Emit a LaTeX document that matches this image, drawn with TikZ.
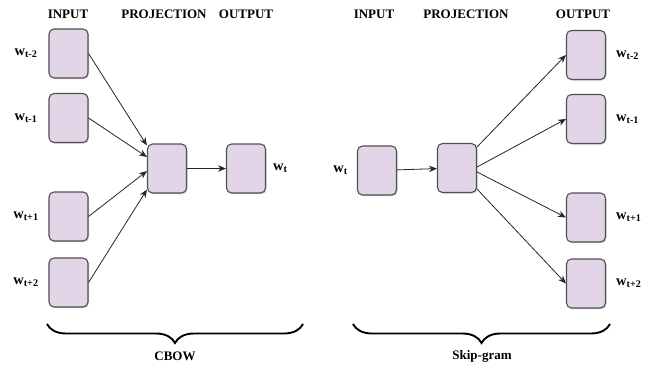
\documentclass[tikz,border=0pt]{standalone}
\usepackage{fontspec}
\setmainfont{Liberation Serif}
\usetikzlibrary{arrows.meta,calc,shadows,decorations.pathreplacing}

\definecolor{boxfill}{HTML}{E1D5E7}
\definecolor{boxline}{HTML}{505050}

\tikzset{
  wbox/.style={draw=boxline,fill=boxfill,line width=1.1pt,rounded corners=5pt,
    minimum width=39pt,minimum height=49pt,inner sep=0pt,
    drop shadow={shadow xshift=1pt,shadow yshift=-1.2pt,opacity=0.35}},
  hdr/.style={font=\bfseries\fontsize{13}{15}\selectfont},
  wlab/.style={font=\bfseries\fontsize{14.5}{16}\selectfont,inner sep=1pt},
  arr/.style={-{Stealth[length=8pt,width=6.5pt]},line width=0.8pt,black!85},
  brc/.style={decorate,decoration={brace,mirror,amplitude=19pt},line width=1.9pt}
}

\begin{document}
\begin{tikzpicture}[x=1pt,y=-1pt]
    \useasboundingbox (0,0) rectangle (653,369);
    % headers
    \node[hdr] (hin1) at (68,14) {INPUT};
    \node[hdr] (hpr1) at (164,14) {PROJECTION};
    \node[hdr] (hout1) at (246,14) {OUTPUT};
    \node[hdr] (hin2) at (374,14) {INPUT};
    \node[hdr] (hpr2) at (466,14) {PROJECTION};
    \node[hdr] (hout2) at (583,14) {OUTPUT};
    % CBOW
    \node[wbox] (cproj) at (167,168.5) {};
    \node[wbox] (cout) at (246,168.5) {};
    \node[wlab,anchor=west] (lcout) at (272,168.5) {w\textsubscript{t}};
    \foreach \i/\y/\s/\f in {1/53.5/t-2/0.04, 2/118/t-1/0.27, 3/216.5/t+1/0.55, 4/282.5/t+2/0.92}{
      \node[wbox] (cin\i) at (68.5,\y) {};
      \node[wlab] (lcin\i) at (26,\y) {w\textsubscript{\s}};
      \draw[arr] (cin\i.east) -- ($(cproj.north west)!\f!(cproj.south west)$);
    }
    \draw[arr] (cproj) -- (cout);
    % Skip-gram
    \node[wbox] (sin) at (377,170.5) {};
    \node[wbox] (sproj) at (457,168) {};
    \node[wlab,anchor=east] (lsin) at (349,170.5) {w\textsubscript{t}};
    \draw[arr] (sin) -- (sproj);
    \foreach \i/\y/\s/\f in {1/55/t-2/0.08, 2/119/t-1/0.48, 3/217.5/t+1/0.58, 4/283.5/t+2/0.92}{
      \node[wbox] (sout\i) at (586,\y) {};
      \node[wlab,anchor=west] (lsout\i) at (615,\y) {w\textsubscript{\s}};
      \draw[arr] ($(sproj.north east)!\f!(sproj.south east)$) -- (sout\i.west);
    }
    % braces
    \coordinate (cb1) at (47,324);
    \coordinate (cb2) at (303,324);
    \coordinate (sb1) at (353,324);
    \coordinate (sb2) at (610,324);
    \draw[brc] (cb1) -- (cb2);
    \draw[brc] (sb1) -- (sb2);
    \node[hdr] (lcbow) at (175,356) {CBOW};
    \node[hdr] (lskip) at (482,356) {Skip-gram};
\end{tikzpicture}
\end{document}
